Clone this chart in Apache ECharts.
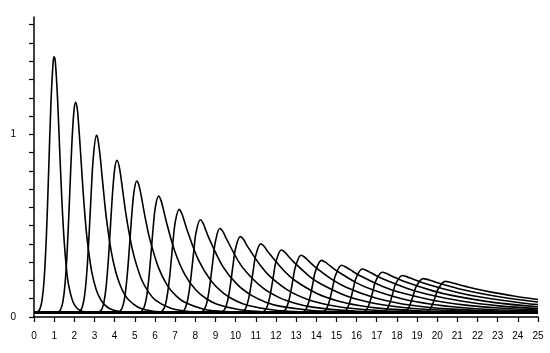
<!DOCTYPE html>
<html>
<head>
<meta charset="utf-8">
<script src="https://cdn.jsdelivr.net/npm/echarts@6/dist/echarts.min.js"></script>
<style>
  html, body { margin: 0; padding: 0; background: #fff; }
  #chart { width: 550px; height: 353px; }
</style>
</head>
<body>
<div id="chart"></div>
<script>
  // [x, y] points
  const curve1 = [[0,0.024],[0.18,0.028],[0.29,0.043],[0.40,0.092],[0.51,0.216],[0.62,0.458],[0.73,0.808],[0.84,1.171],[0.95,1.397],[1.0,1.424],[1.06,1.394],[1.17,1.190],[1.28,0.898],[1.39,0.621],[1.50,0.409],[1.61,0.265],[1.72,0.173],[1.94,0.081],[2.16,0.045],[2.38,0.032],[2.6,0.027],[3.2,0.024],[25,0.024]]
  const curve2 = [[0,0.024],[1.10,0.025],[1.21,0.028],[1.32,0.041],[1.43,0.081],[1.54,0.181],[1.65,0.371],[1.76,0.643],[1.87,0.929],[1.98,1.127],[2.07,1.175],[2.15,1.137],[2.20,1.074],[2.31,0.900],[2.42,0.713],[2.53,0.551],[2.64,0.422],[2.86,0.250],[3.08,0.152],[3.30,0.096],[3.52,0.065],[3.74,0.047],[4.18,0.031],[4.62,0.026],[5.2,0.024],[25,0.024]]
  const curve3 = [[0,0.024],[2.17,0.026],[2.28,0.032],[2.39,0.053],[2.50,0.110],[2.61,0.230],[2.72,0.425],[2.83,0.662],[2.94,0.871],[3.10,0.994],[3.16,0.979],[3.27,0.891],[3.38,0.767],[3.49,0.643],[3.60,0.533],[3.82,0.366],[4.04,0.253],[4.26,0.178],[4.48,0.127],[4.70,0.093],[5.14,0.055],[5.58,0.038],[6.02,0.030],[6.68,0.026],[7.5,0.024],[25,0.024]]
  const curve4 = [[0,0.024],[3.14,0.025],[3.25,0.029],[3.36,0.042],[3.47,0.081],[3.58,0.168],[3.69,0.316],[3.80,0.511],[3.91,0.699],[4.02,0.824],[4.12,0.858],[4.24,0.816],[4.35,0.734],[4.46,0.642],[4.57,0.556],[4.80,0.411],[4.98,0.325],[5.33,0.207],[5.69,0.135],[6.04,0.091],[6.75,0.049],[7.46,0.033],[8.17,0.027],[8.88,0.025],[10,0.024],[25,0.024]]
  const curve5 = [[0,0.024],[4.09,0.025],[4.20,0.027],[4.31,0.037],[4.42,0.065],[4.53,0.131],[4.64,0.248],[4.75,0.407],[4.86,0.572],[4.97,0.693],[5.10,0.744],[5.19,0.727],[5.30,0.674],[5.41,0.607],[5.52,0.541],[5.74,0.428],[6.18,0.269],[6.62,0.172],[7.06,0.114],[7.50,0.079],[8.38,0.044],[9.26,0.031],[10.14,0.027],[11.5,0.024],[25,0.024]]
  const curve6 = [[0,0.024],[5.25,0.026],[5.36,0.034],[5.47,0.056],[5.58,0.108],[5.69,0.205],[5.80,0.341],[5.91,0.487],[6.02,0.601],[6.18,0.662],[6.29,0.641],[6.40,0.597],[6.57,0.519],[6.97,0.364],[7.49,0.230],[8.02,0.149],[8.55,0.100],[9.08,0.070],[10.14,0.041],[11.20,0.030],[12.26,0.026],[13.5,0.024],[25,0.024]]
  const curve7 = [[0,0.024],[6.24,0.026],[6.35,0.032],[6.46,0.050],[6.57,0.093],[6.68,0.173],[6.79,0.289],[6.90,0.418],[7.01,0.522],[7.20,0.589],[7.34,0.564],[7.45,0.527],[7.61,0.471],[8.15,0.314],[8.77,0.200],[9.39,0.131],[10.01,0.089],[10.63,0.063],[11.88,0.038],[13.12,0.029],[14.36,0.026],[16,0.024],[25,0.024]]
  const curve8 = [[0,0.024],[7.27,0.026],[7.38,0.030],[7.49,0.045],[7.60,0.082],[7.71,0.151],[7.82,0.252],[7.93,0.366],[8.04,0.463],[8.25,0.532],[8.37,0.517],[8.48,0.488],[8.65,0.439],[9.37,0.276],[10.09,0.177],[10.81,0.117],[11.53,0.080],[12.25,0.058],[13.69,0.037],[15.12,0.029],[16.56,0.026],[18.5,0.024],[25,0.024]]
  const curve9 = [[0,0.024],[8.23,0.025],[8.34,0.029],[8.45,0.042],[8.56,0.073],[8.67,0.133],[8.78,0.223],[8.89,0.325],[9.00,0.414],[9.22,0.484],[9.37,0.467],[9.55,0.427],[10.12,0.309],[10.53,0.246],[11.35,0.159],[12.17,0.106],[12.99,0.074],[13.81,0.054],[15.45,0.035],[17.10,0.028],[18.74,0.026],[21,0.024],[25,0.024]]
  const curve10 = [[0,0.024],[9.22,0.025],[9.33,0.029],[9.44,0.039],[9.55,0.067],[9.66,0.119],[9.77,0.198],[9.88,0.290],[9.99,0.371],[10.23,0.440],[10.39,0.425],[10.58,0.388],[11.27,0.276],[11.73,0.220],[12.65,0.143],[13.58,0.096],[14.50,0.068],[15.43,0.051],[17.28,0.034],[19.13,0.028],[20.97,0.025],[25,0.024]]
  const curve11 = [[0,0.024],[10.22,0.025],[10.33,0.028],[10.44,0.037],[10.55,0.061],[10.66,0.107],[10.77,0.177],[10.88,0.259],[10.99,0.333],[11.25,0.400],[11.41,0.387],[11.61,0.356],[12.46,0.246],[12.98,0.197],[14.03,0.129],[15.07,0.088],[16.12,0.063],[17.17,0.047],[19.26,0.033],[21.36,0.027],[23.45,0.025],[25,0.024]]
  const curve12 = [[0,0.024],[11.23,0.025],[11.34,0.027],[11.45,0.036],[11.56,0.056],[11.67,0.097],[11.78,0.160],[11.89,0.234],[12.00,0.302],[12.27,0.367],[12.44,0.355],[12.64,0.330],[12.84,0.306],[13.66,0.223],[14.26,0.179],[15.44,0.118],[16.62,0.081],[17.80,0.059],[18.99,0.045],[21.35,0.032],[23.72,0.027],[25,0.026]]
  const curve13 = [[0,0.024],[12.20,0.025],[12.31,0.027],[12.42,0.034],[12.53,0.053],[12.64,0.089],[12.75,0.146],[12.86,0.214],[12.97,0.275],[13.25,0.338],[13.43,0.327],[13.65,0.304],[13.90,0.278],[14.82,0.203],[15.48,0.163],[16.79,0.109],[18.09,0.075],[19.40,0.055],[20.71,0.043],[23.33,0.031],[25,0.028]]
  const curve14 = [[0,0.024],[13.19,0.025],[13.30,0.027],[13.41,0.033],[13.52,0.049],[13.63,0.082],[13.74,0.133],[13.85,0.194],[13.96,0.250],[14.26,0.310],[14.45,0.300],[14.67,0.281],[15.03,0.252],[16.05,0.184],[16.79,0.149],[18.25,0.100],[19.72,0.070],[21.19,0.052],[22.65,0.041],[25,0.032]]
  const curve15 = [[0,0.024],[14.18,0.025],[14.29,0.026],[14.40,0.032],[14.51,0.046],[14.62,0.075],[14.73,0.121],[14.84,0.176],[14.95,0.227],[15.26,0.283],[15.46,0.274],[15.68,0.259],[16.15,0.227],[17.30,0.167],[18.13,0.135],[19.77,0.092],[21.41,0.065],[23.05,0.049],[25,0.038]]
  const curve16 = [[0,0.024],[15.19,0.024],[15.30,0.026],[15.41,0.031],[15.52,0.044],[15.63,0.071],[15.74,0.112],[15.85,0.162],[15.96,0.209],[16.28,0.263],[16.49,0.255],[16.71,0.242],[17.29,0.209],[18.56,0.155],[19.46,0.126],[21.26,0.086],[23.06,0.061],[25,0.046]]
  const curve17 = [[0,0.024],[16.17,0.024],[16.28,0.026],[16.39,0.030],[16.50,0.042],[16.61,0.066],[16.72,0.104],[16.83,0.150],[16.94,0.194],[17.27,0.245],[17.49,0.238],[17.71,0.226],[18.41,0.193],[19.79,0.143],[20.78,0.117],[22.76,0.080],[25,0.056]]
  const curve18 = [[0,0.024],[17.16,0.024],[17.27,0.026],[17.38,0.030],[17.49,0.041],[17.60,0.062],[17.71,0.097],[17.82,0.139],[17.93,0.179],[18.27,0.227],[18.48,0.221],[18.70,0.212],[19.55,0.178],[21.06,0.133],[22.14,0.109],[24.29,0.075],[25,0.068]]
  const curve19 = [[0,0.024],[18.18,0.024],[18.29,0.026],[18.40,0.029],[18.51,0.039],[18.62,0.059],[18.73,0.090],[18.84,0.128],[18.95,0.165],[19.30,0.210],[19.50,0.206],[19.72,0.198],[20.28,0.179],[21.23,0.151],[22.43,0.123],[23.62,0.101],[25,0.082]]
  const curve20 = [[0,0.024],[19.27,0.024],[19.38,0.025],[19.49,0.029],[19.60,0.038],[19.71,0.056],[19.82,0.084],[19.93,0.119],[20.04,0.153],[20.40,0.195],[20.59,0.192],[20.81,0.185],[21.50,0.165],[22.55,0.139],[23.86,0.114],[25,0.096]]

  const curves = [curve1, curve2, curve3, curve4, curve5, curve6, curve7, curve8, curve9, curve10,
    curve11, curve12, curve13, curve14, curve15, curve16, curve17, curve18, curve19, curve20]

  const yTickValues = [0, 0.1, 0.2, 0.3, 0.4, 0.5, 0.6, 0.7, 0.8, 0.9, 1, 1.1, 1.2, 1.3, 1.4, 1.5, 1.6]
  const yLabelValues = [0, 1]

  const myChart = echarts.init(document.getElementById('chart'), null, { renderer: 'canvas' })
  const axisFont = { fontFamily: 'Liberation Sans', fontSize: 10, color: '#000' }

  myChart.setOption({
    animation: false,
    backgroundColor: '#fff',
    grid: { left: 34, right: 12, top: 17, bottom: 36 },
    xAxis: {
      type: 'value',
      min: 0,
      max: 25,
      interval: 1,
      axisLine: { lineStyle: { color: '#000', width: 1.5 } },
      axisTick: { length: 5, lineStyle: { color: '#000', width: 1.2 } },
      axisLabel: Object.assign({ margin: 14 }, axisFont),
      splitLine: { show: false }
    },
    yAxis: {
      type: 'value',
      min: 0,
      max: 1.642,
      axisLine: { show: true, lineStyle: { color: '#000', width: 1.5 } },
      axisTick: { show: true, length: 5, customValues: yTickValues, lineStyle: { color: '#000', width: 1.2 } },
      axisLabel: Object.assign({ margin: 18, customValues: yLabelValues }, axisFont),
      splitLine: { show: false }
    },
    series: curves.map(function (pts) {
      return {
        type: 'line',
        data: pts,
        showSymbol: false,
        smooth: 0.35,
        lineStyle: { color: '#000', width: 1.6 }
      }
    })
  })
</script>
</body>
</html>
